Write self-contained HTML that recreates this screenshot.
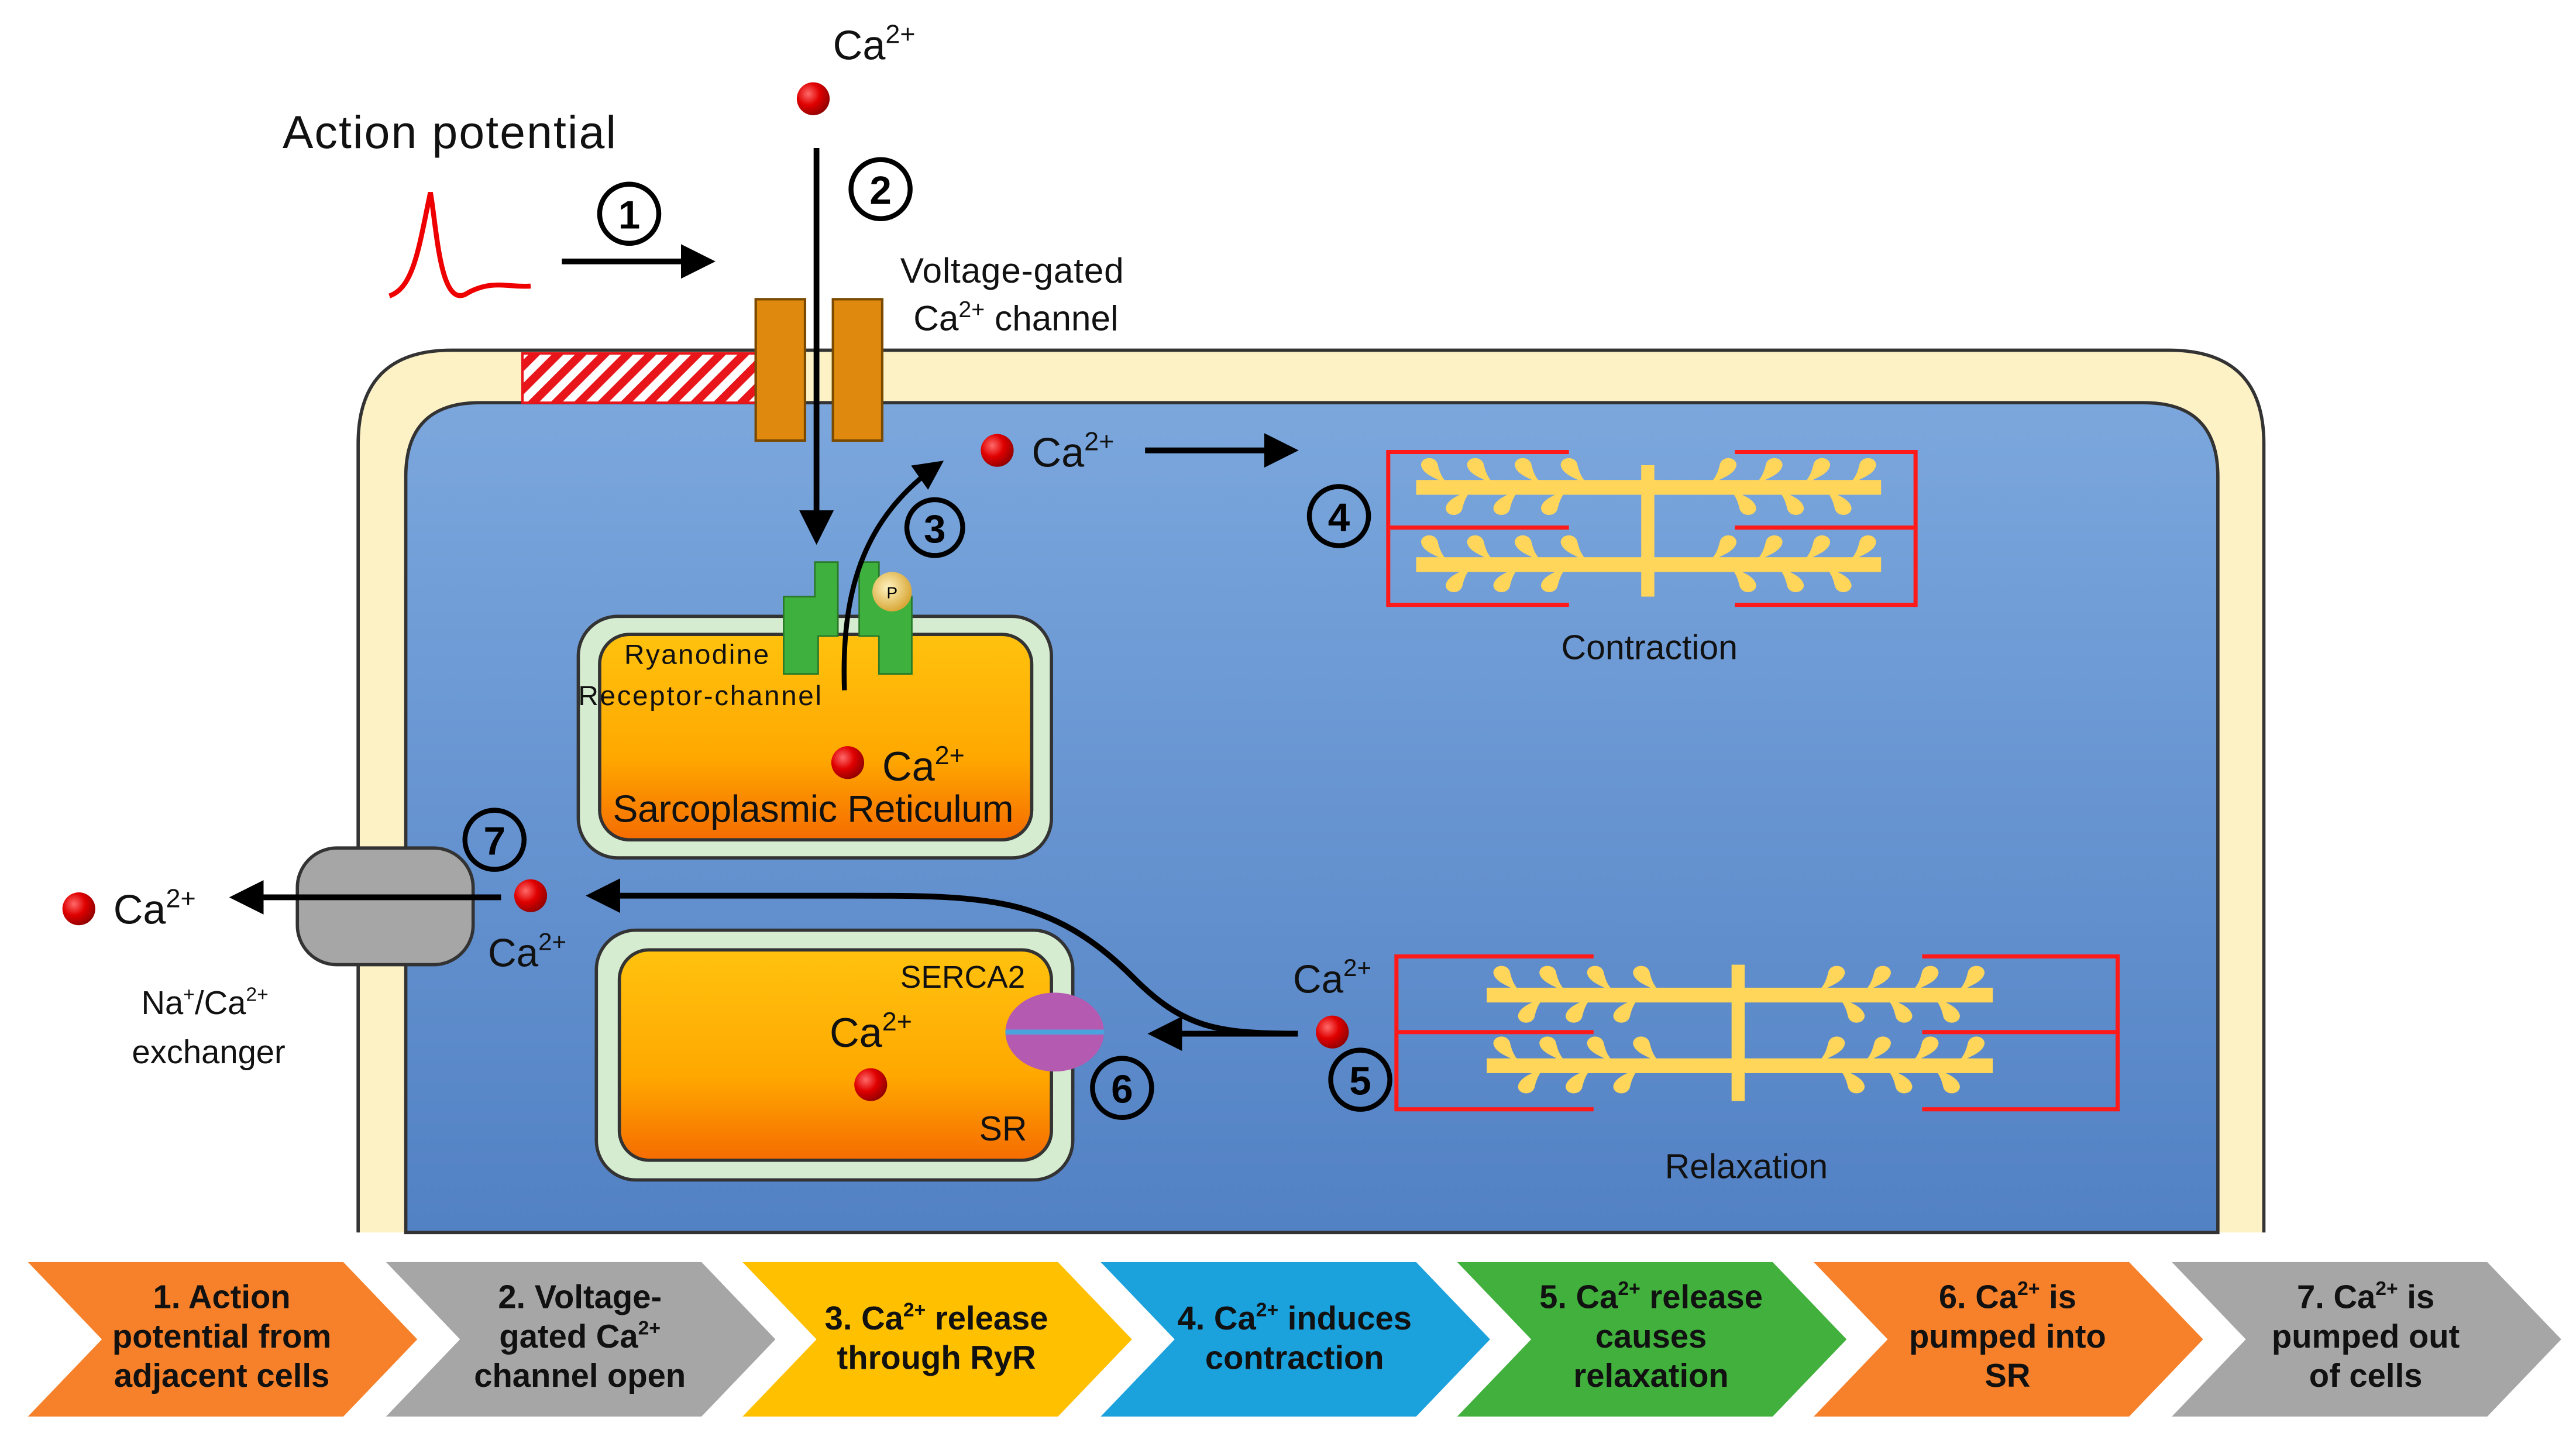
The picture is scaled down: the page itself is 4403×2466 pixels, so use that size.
<!DOCTYPE html>
<html><head><meta charset="utf-8"><style>
html,body{margin:0;padding:0;background:#fff;}
svg{display:block;}
text{font-family:"Liberation Sans Narrow","Liberation Sans",sans-serif;}
</style></head><body>
<svg width="4403" height="2466" viewBox="0 0 1568 878" xmlns="http://www.w3.org/2000/svg">
<defs>
<linearGradient id="blue" x1="0" y1="0" x2="0" y2="1"><stop offset="0" stop-color="#7ba7dd"/><stop offset="1" stop-color="#5281c4"/></linearGradient>
<linearGradient id="org" x1="0" y1="0" x2="0" y2="1"><stop offset="0" stop-color="#ffc20e"/><stop offset="0.6" stop-color="#ffa800"/><stop offset="1" stop-color="#f56c00"/></linearGradient>
<radialGradient id="ball" cx="0.35" cy="0.35" r="0.7"><stop offset="0" stop-color="#ff6a6a"/><stop offset="0.5" stop-color="#e00000"/><stop offset="1" stop-color="#900000"/></radialGradient>
<radialGradient id="pb" cx="0.4" cy="0.4" r="0.6"><stop offset="0" stop-color="#fff3c0"/><stop offset="1" stop-color="#d9a93a"/></radialGradient>
<pattern id="hatch" patternUnits="userSpaceOnUse" width="10" height="10" patternTransform="rotate(45)"><rect width="10" height="10" fill="#fff"/><rect width="5" height="10" fill="#e8161b"/></pattern>
<marker id="ah" markerWidth="6" markerHeight="6" refX="5" refY="3" orient="auto" markerUnits="strokeWidth"><path d="M0,0 L6,3 L0,6 z" fill="#000"/></marker>
<path id="hu" d="M8,1 C4,-2 -5,-4 -6,-10 C-6,-15 2,-16 4,-11 C5,-7 6,-3 10,1 Z" fill="#ffd55a"/>
<g id="hd"><use href="#hu" transform="scale(1,-1)"/></g>
<g id="half">
<use href="#hu" x="10" y="-3"/><use href="#hu" x="38" y="-3"/><use href="#hu" x="67" y="-3"/><use href="#hu" x="95" y="-3"/>
<use href="#hd" x="25" y="3"/><use href="#hd" x="54" y="3"/><use href="#hd" x="83" y="3"/>
</g>
</defs>

<!-- cell -->
<path d="M218,750 L218,270 Q218,213 275,213 L1320,213 Q1378,213 1378,270 L1378,750" fill="#fdf2c6" stroke="#333" stroke-width="2"/>
<path d="M247,750 L247,290 Q247,245 292,245 L1305,245 Q1350,245 1350,290 L1350,750 Z" fill="url(#blue)" stroke="#333" stroke-width="2"/>
<rect x="318" y="215" width="142" height="30" fill="url(#hatch)" stroke="#e8161b" stroke-width="1.5"/>
<rect x="460" y="182" width="30" height="86" fill="#df8a0e" stroke="#7a4a00" stroke-width="1.5"/>
<rect x="507" y="182" width="30" height="86" fill="#df8a0e" stroke="#7a4a00" stroke-width="1.5"/>

<!-- top labels -->
<text x="172" y="90" font-size="28" fill="#111" textLength="203">Action potential</text>
<path d="M237,180 C252,175 255,150 262,117 C266,140 268,190 285,178 C300,170 310,175 323,174" fill="none" stroke="#e00" stroke-width="3"/>
<line x1="342" y1="159" x2="432" y2="159" stroke="#000" stroke-width="3.5" marker-end="url(#ah)"/>
<circle cx="383" cy="130" r="18" fill="none" stroke="#000" stroke-width="3"/><text x="383" y="139" font-size="24" font-weight="bold" text-anchor="middle">1</text>
<text x="507" y="36" font-size="25" fill="#111">Ca<tspan font-size="16" dy="-10">2+</tspan></text>
<circle cx="495" cy="60" r="10" fill="url(#ball)"/>
<line x1="497" y1="90" x2="497" y2="328" stroke="#000" stroke-width="3.5" marker-end="url(#ah)"/>
<circle cx="536" cy="115" r="18" fill="none" stroke="#000" stroke-width="3"/><text x="536" y="124" font-size="24" font-weight="bold" text-anchor="middle">2</text>
<text x="548" y="172" font-size="21.5" fill="#111" textLength="136">Voltage-gated</text>
<text x="556" y="201" font-size="21.5" fill="#111">Ca<tspan font-size="14" dy="-8">2+</tspan><tspan dy="8"> channel</tspan></text>

<!-- SR1 -->
<rect x="352" y="375" width="288" height="147" rx="24" fill="#d6ecd0" stroke="#333" stroke-width="2"/>
<rect x="365" y="386" width="263" height="125" rx="18" fill="url(#org)" stroke="#333" stroke-width="2"/>
<path d="M496,342 L510,342 L510,387 L498,387 L498,410 L477,410 L477,363 L496,363 Z" fill="#3db03d" stroke="#2a7a2a" stroke-width="1"/>
<path d="M523,342 L535,342 L535,363 L555,363 L555,410 L535,410 L535,387 L523,387 Z" fill="#3db03d" stroke="#2a7a2a" stroke-width="1"/>
<circle cx="543" cy="360" r="12" fill="url(#pb)"/><text x="543" y="364" font-size="10" text-anchor="middle">P</text>
<path d="M514,420 C512,360 525,315 572,282" fill="none" stroke="#000" stroke-width="3" marker-end="url(#ah)"/>
<circle cx="569" cy="321" r="17" fill="none" stroke="#000" stroke-width="3"/><text x="569" y="330" font-size="24" font-weight="bold" text-anchor="middle">3</text>
<text x="380" y="404" font-size="17" fill="#111" textLength="88">Ryanodine</text>
<text x="352" y="429" font-size="17" fill="#111" textLength="148">Receptor-channel</text>
<circle cx="516" cy="464" r="10" fill="url(#ball)"/>
<text x="537" y="475" font-size="25" fill="#111">Ca<tspan font-size="16" dy="-10">2+</tspan></text>
<text x="373" y="500" font-size="23" fill="#111" textLength="244">Sarcoplasmic Reticulum</text>

<!-- Ca release to contraction -->
<circle cx="607" cy="274" r="10" fill="url(#ball)"/>
<text x="628" y="284" font-size="25" fill="#111">Ca<tspan font-size="16" dy="-10">2+</tspan></text>
<line x1="697" y1="274" x2="787" y2="274" stroke="#000" stroke-width="3.5" marker-end="url(#ah)"/>
<circle cx="815" cy="314" r="18" fill="none" stroke="#000" stroke-width="3"/><text x="815" y="323" font-size="24" font-weight="bold" text-anchor="middle">4</text>

<!-- contraction sarcomere -->
<g stroke="#ff1a1a" stroke-width="2.5" fill="none">
<path d="M955,275 L845,275 L845,368 L955,368 M845,321 L955,321"/>
<path d="M1056,275 L1166,275 L1166,368 L1056,368 M1056,321 L1166,321"/>
</g>
<g fill="#ffd55a">
<rect x="862" y="292" width="283" height="9"/><rect x="862" y="339" width="283" height="9"/>
<rect x="999" y="283" width="8" height="80"/>
</g>
<use href="#half" x="861" y="296"/><use href="#half" x="861" y="343"/>
<g transform="translate(2007,0) scale(-1,1)"><use href="#half" x="861" y="296"/><use href="#half" x="861" y="343"/></g>
<text x="1004" y="401" font-size="21" fill="#111" text-anchor="middle">Contraction</text>

<!-- relaxation sarcomere -->
<g stroke="#ff1a1a" stroke-width="2.5" fill="none">
<path d="M970,582 L850,582 L850,675 L970,675 M850,628 L970,628"/>
<path d="M1170,582 L1289,582 L1289,675 L1170,675 M1170,628 L1289,628"/>
</g>
<g fill="#ffd55a">
<rect x="905" y="601" width="308" height="9"/><rect x="905" y="644" width="308" height="9"/>
<rect x="1054" y="587" width="8" height="83"/>
</g>
<use href="#half" x="905" y="605"/><use href="#half" x="905" y="648"/>
<g transform="translate(2117,0) scale(-1,1)"><use href="#half" x="905" y="605"/><use href="#half" x="905" y="648"/></g>
<text x="1063" y="717" font-size="21" fill="#111" text-anchor="middle">Relaxation</text>

<!-- step 5/6 -->
<text x="787" y="604" font-size="24" fill="#111">Ca<tspan font-size="15" dy="-10">2+</tspan></text>
<circle cx="811" cy="628" r="10" fill="url(#ball)"/>
<circle cx="828" cy="657" r="18" fill="none" stroke="#000" stroke-width="3"/><text x="828" y="666" font-size="24" font-weight="bold" text-anchor="middle">5</text>
<line x1="790" y1="629" x2="702" y2="629" stroke="#000" stroke-width="3.5" marker-end="url(#ah)"/>
<path d="M790,629 C740,629 720,625 690,595 C640,545 600,545 520,545 L360,545" fill="none" stroke="#000" stroke-width="3.5" marker-end="url(#ah)"/>

<!-- SR2 -->
<rect x="363" y="566" width="290" height="152" rx="24" fill="#d6ecd0" stroke="#333" stroke-width="2"/>
<rect x="377" y="578" width="263" height="128" rx="18" fill="url(#org)" stroke="#333" stroke-width="2"/>
<ellipse cx="642" cy="628" rx="30" ry="24" fill="#b45ab0"/>
<line x1="612" y1="628" x2="672" y2="628" stroke="#4aa3df" stroke-width="3"/>
<text x="548" y="601" font-size="19" fill="#111">SERCA2</text>
<text x="505" y="637" font-size="25" fill="#111">Ca<tspan font-size="16" dy="-10">2+</tspan></text>
<circle cx="530" cy="660" r="10" fill="url(#ball)"/>
<text x="596" y="694" font-size="21" fill="#111">SR</text>
<circle cx="683" cy="662" r="18" fill="none" stroke="#000" stroke-width="3"/><text x="683" y="671" font-size="24" font-weight="bold" text-anchor="middle">6</text>

<!-- exchanger -->
<rect x="181" y="516" width="107" height="71" rx="24" fill="#a6a6a6" stroke="#333" stroke-width="2"/>
<line x1="305" y1="546" x2="143" y2="546" stroke="#000" stroke-width="3.5" marker-end="url(#ah)"/>
<circle cx="323" cy="545" r="10" fill="url(#ball)"/>
<circle cx="301" cy="511" r="18" fill="none" stroke="#000" stroke-width="3"/><text x="301" y="520" font-size="24" font-weight="bold" text-anchor="middle">7</text>
<text x="297" y="588" font-size="24" fill="#111">Ca<tspan font-size="15" dy="-10">2+</tspan></text>
<circle cx="48" cy="553" r="10" fill="url(#ball)"/>
<text x="69" y="562" font-size="25" fill="#111">Ca<tspan font-size="16" dy="-10">2+</tspan></text>
<text x="86" y="617" font-size="20" fill="#111">Na<tspan font-size="12" dy="-8">+</tspan><tspan dy="8">/Ca</tspan><tspan font-size="12" dy="-8">2+</tspan></text>
<text x="127" y="647" font-size="20" fill="#111" text-anchor="middle">exchanger</text>

<!-- chevrons -->
<g font-size="20" font-weight="bold" fill="#111" text-anchor="middle">
<path d="M17,768 L209,768 L254,815 L209,862 L17,862 L62,815 Z" fill="#f6812a"/>
<text x="135" y="796">1. Action</text><text x="135" y="820">potential from</text><text x="135" y="844">adjacent cells</text>
<path d="M235,768 L427,768 L472,815 L427,862 L235,862 L280,815 Z" fill="#a6a6a6"/>
<text x="353" y="796">2. Voltage-</text><text x="353" y="820">gated Ca<tspan font-size="12" dy="-8">2+</tspan></text><text x="353" y="844">channel open</text>
<path d="M452,768 L644,768 L689,815 L644,862 L452,862 L497,815 Z" fill="#ffc000"/>
<text x="570" y="809">3. Ca<tspan font-size="12" dy="-8">2+</tspan><tspan dy="8"> release</tspan></text><text x="570" y="833">through RyR</text>
<path d="M670,768 L862,768 L907,815 L862,862 L670,862 L715,815 Z" fill="#1ba1dc"/>
<text x="788" y="809">4. Ca<tspan font-size="12" dy="-8">2+</tspan><tspan dy="8"> induces</tspan></text><text x="788" y="833">contraction</text>
<path d="M887,768 L1079,768 L1124,815 L1079,862 L887,862 L932,815 Z" fill="#41b03d"/>
<text x="1005" y="796">5. Ca<tspan font-size="12" dy="-8">2+</tspan><tspan dy="8"> release</tspan></text><text x="1005" y="820">causes</text><text x="1005" y="844">relaxation</text>
<path d="M1104,768 L1296,768 L1341,815 L1296,862 L1104,862 L1149,815 Z" fill="#f6812a"/>
<text x="1222" y="796">6. Ca<tspan font-size="12" dy="-8">2+</tspan><tspan dy="8"> is</tspan></text><text x="1222" y="820">pumped into</text><text x="1222" y="844">SR</text>
<path d="M1322,768 L1514,768 L1559,815 L1514,862 L1322,862 L1367,815 Z" fill="#a6a6a6"/>
<text x="1440" y="796">7. Ca<tspan font-size="12" dy="-8">2+</tspan><tspan dy="8"> is</tspan></text><text x="1440" y="820">pumped out</text><text x="1440" y="844">of cells</text>
</g>
</svg>
</body></html>
